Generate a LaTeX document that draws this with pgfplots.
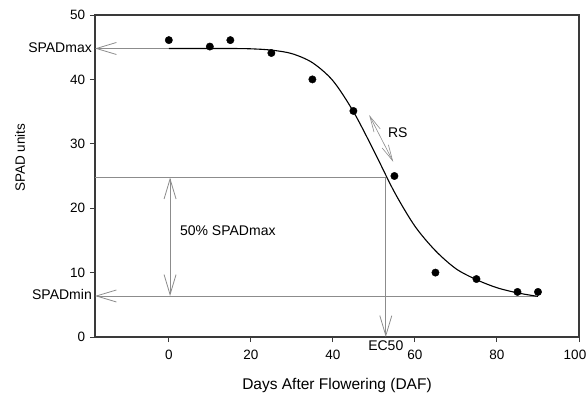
\documentclass[border=0pt]{standalone}
\usepackage{fontspec}
\setmainfont{Liberation Sans}
\usepackage{pgfplots}
\pgfplotsset{compat=1.18}
\usetikzlibrary{arrows.meta}
\definecolor{annot}{HTML}{8C8C8C}
\definecolor{frame}{HTML}{3A3A3A}
\begin{document}
\fontsize{14bp}{16bp}\selectfont
\begin{tikzpicture}[
  barb/.style={annot, line width=0.8bp},
  tip/.tip={Straight Barb[length=20bp, width=12bp, line width=0.8bp]},
  stip/.tip={Straight Barb[length=16bp, width=7bp, line width=0.6bp]}
]
\begin{axis}[
  name=ax,
  scale only axis,
  width=484bp, height=322bp,
  xmin=-18, xmax=100, ymin=0, ymax=50,
  xtick={0,20,40,60,80},
  extra x ticks={100},
  extra x tick style={xticklabel style={anchor=north, xshift=-4bp}},
  ytick={0,10,20,30,40,50},
  tick pos=left,
  tick align=outside,
  major tick length=5bp,
  every tick/.style={frame, line width=1bp},
  axis line style={frame, line width=1.2bp},
  /pgf/number format/assume math mode=true,
  ticklabel style={font=\fontsize{13.5bp}{15bp}\selectfont},
  xticklabel style={yshift=-3bp},
  xlabel={Days After Flowering (DAF)},
  xlabel style={at={(axis description cs:0.5,-0.1615)}, anchor=base, font=\fontsize{15.5bp}{18bp}\selectfont},
  ylabel={SPAD units},
  ylabel style={at={(axis description cs:-0.155,0.556)}, anchor=center, font=\fontsize{13.5bp}{15bp}\selectfont},
  clip=false,
]
% annotation lines
\draw[barb, tip-] (axis cs:-18,44.8) -- (axis cs:20,44.8);
\draw[barb, tip-] (axis cs:-18,6.37) -- (axis cs:89.6,6.37);
\draw[barb] (axis cs:-18,24.75) -- (axis cs:52.9,24.75);
\draw[barb, -tip] (axis cs:52.9,24.75) -- (axis cs:52.9,0);
\draw[barb, tip-tip] (axis cs:0.3,24.75) -- (axis cs:0.3,6.37);
\draw[annot, line width=0.6bp, stip-stip] (axis cs:48.85,34.47) -- (axis cs:54.7,27.2);
% labels
\node[anchor=mid east, inner sep=0pt, xshift=-3bp] at (axis cs:-18,44.8) {SPADmax};
\node[anchor=mid east, inner sep=0pt, xshift=-3bp] at (axis cs:-18,6.37) {SPADmin};
\node[anchor=mid west, inner sep=0pt] at (axis cs:2.7,16.35) {50\% SPADmax};
\node[anchor=mid west, inner sep=0pt] at (axis cs:53.4,31.6) {RS};
\node[anchor=north, inner sep=0pt, yshift=-3.5bp] at (axis cs:52.9,0) {EC50};
% fitted curve
\addplot[black, line width=1.1bp, smooth, tension=0.5] coordinates {
(0,44.8) (5,44.8) (10,44.8) (15,44.8) (20,44.75) (25,44.55) (30,44.0)
(35,42.6) (40,39.8) (45,35.0) (50,28.9) (55,22.5) (60,17.2) (65,13.4)
(70,10.6) (75,8.9) (80,7.65) (85,6.85) (90,6.3)};
% observed data
\addplot[only marks, mark=*, mark size=3.7bp, mark options={fill=black, draw=black}] coordinates {
(0,46.1) (10,45.1) (15,46.1) (25,44.1) (35,40.0) (45,35.1) (55,25.0)
(65,10.0) (75,9.0) (85,7.0) (90,7.0)};
\end{axis}
\pgfresetboundingbox
\path[use as bounding box] (ax.south west) ++(-95bp,-57bp) rectangle ++(587bp,394bp);
\end{tikzpicture}
\end{document}
